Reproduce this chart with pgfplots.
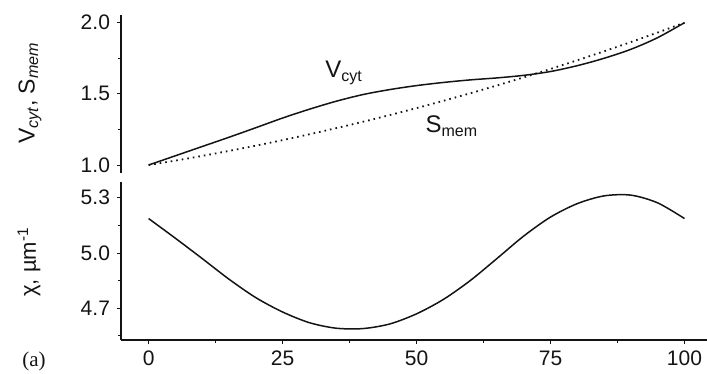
\documentclass[border=0pt]{standalone}
\usepackage{fontspec}
\setmainfont{Liberation Sans}
\newfontfamily\seriffont{Liberation Serif}
\usepackage{pgfplots}
\pgfplotsset{compat=1.18}
\definecolor{ink}{HTML}{141414}

\pgfplotsset{common/.style={
  scale only axis, width=293pt, xmin=-5.15, xmax=104.2,
  tick align=outside, major tick length=2pt, minor tick length=1.4pt,
  every tick/.style={ink, line width=0.5pt},
  axis line style={ink, line width=0.65pt, -},
  tick label style={font=\fontsize{10.5}{12}\selectfont, text=ink},
  /pgf/number format/assume math mode=true,
  clip=false,
}}

\begin{document}
\begin{tikzpicture}
\useasboundingbox (0,0) rectangle (353.5pt,187pt);

\begin{axis}[common, at={(60.5pt,100.5pt)}, anchor=south west, height=79pt,
  ymin=0.944, ymax=2.054, axis y line*=left, axis x line=none,
  ytick={1,1.5,2}, minor ytick={1.25,1.75},
  yticklabel style={/pgf/number format/.cd, fixed, fixed zerofill, precision=1}]
\addplot[ink, line width=0.75pt, smooth] coordinates {
(0,1.000)(5,1.065)(10,1.130)(15,1.195)(20,1.262)(25,1.330)(30,1.392)(35,1.448)(40,1.495)(45,1.530)(50,1.558)(55,1.580)(60,1.598)(65,1.612)(70,1.630)(75,1.657)(80,1.698)(85,1.750)(90,1.813)(95,1.895)(100,2.000)};
\addplot[ink, line width=0.9pt, dash pattern=on 0.8pt off 2pt, smooth] coordinates {
(0,1.000)(5,1.031)(10,1.064)(15,1.099)(20,1.136)(25,1.175)(30,1.216)(35,1.259)(40,1.304)(45,1.351)(50,1.400)(55,1.451)(60,1.504)(65,1.559)(70,1.616)(75,1.675)(80,1.736)(85,1.799)(90,1.864)(95,1.931)(100,2.000)};
\node[font=\fontsize{12}{14}\selectfont, text=ink] at (axis cs:36.5,1.647) {V\textsubscript{cyt}};
\node[font=\fontsize{12}{14}\selectfont, text=ink] at (axis cs:56.6,1.274) {S\textsubscript{mem}};
\end{axis}

\begin{axis}[common, at={(60.5pt,17pt)}, anchor=south west, height=79.15pt,
  ymin=4.528, ymax=5.387, axis x line*=bottom, axis y line*=left,
  xtick={0,25,50,75,100}, minor xtick={12.5,37.5,62.5,87.5},
  ytick={4.7,5.0,5.3}, minor ytick={4.55,4.85,5.15},
  yticklabel style={/pgf/number format/.cd, fixed, fixed zerofill, precision=1}]
\addplot[ink, line width=0.75pt, smooth] coordinates {
(0,5.187)(5,5.080)(10,4.970)(15,4.858)(20,4.758)(25,4.680)(30,4.622)(35,4.592)(40,4.590)(45,4.615)(50,4.670)(55,4.748)(60,4.850)(65,4.970)(70,5.092)(75,5.195)(80,5.268)(85,5.310)(90,5.314)(95,5.272)(100,5.187)};
\end{axis}

\node[rotate=90, font=\fontsize{11.5}{13}\selectfont, text=ink] at (15pt,140.5pt) {V\textsubscript{\itshape cyt}, S\textsubscript{\itshape mem}};
\node[rotate=90, font=\fontsize{11}{13}\selectfont, text=ink] at (14.5pt,56pt) {χ, µm\textsuperscript{-1}};
\node[font=\seriffont\fontsize{10.5}{12}\selectfont, text=ink] at (17pt,6.5pt) {(a)};
\end{tikzpicture}
\end{document}
